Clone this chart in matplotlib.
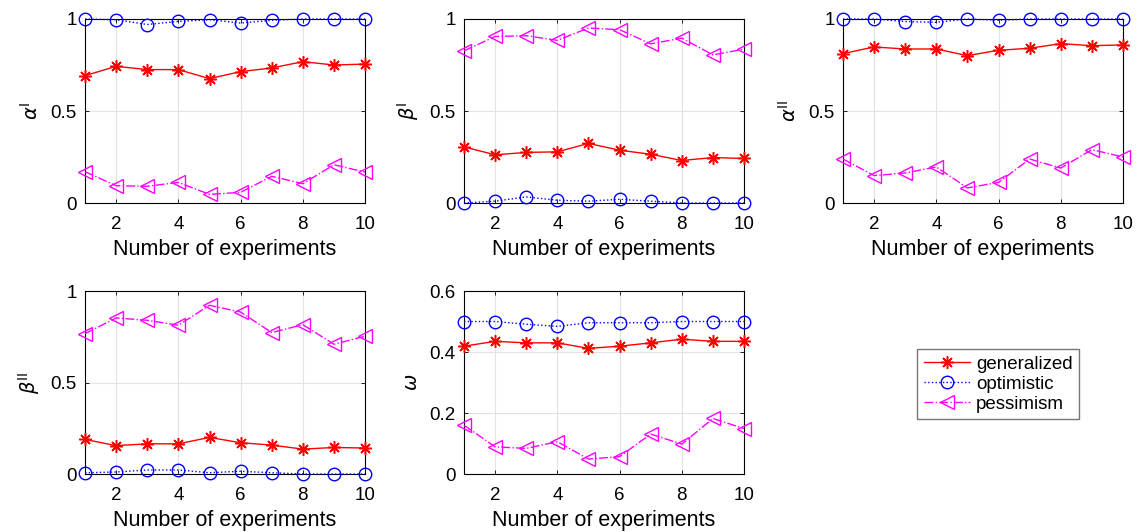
import numpy as np
import matplotlib
matplotlib.use("Agg")
from matplotlib import pyplot as plt

plt.rcParams['font.family'] = ['Liberation Sans', 'DejaVu Sans']
plt.rcParams['mathtext.fontset'] = 'dejavusans'

experiments = np.arange(1, 11)

# alpha^I
alpha1_gen = [0.692, 0.743, 0.725, 0.725, 0.676, 0.714, 0.734, 0.768, 0.750, 0.755]
alpha1_opt = [1.0, 0.996, 0.970, 0.987, 0.996, 0.978, 0.993, 1.0, 1.0, 1.0]
alpha1_pes = [0.170, 0.094, 0.091, 0.112, 0.047, 0.058, 0.145, 0.105, 0.208, 0.168]

# beta^I
beta1_gen = [0.305, 0.262, 0.275, 0.278, 0.324, 0.287, 0.265, 0.231, 0.247, 0.242]
beta1_opt = [0.0, 0.010, 0.033, 0.015, 0.010, 0.020, 0.010, 0.0, 0.0, 0.0]
beta1_pes = [0.827, 0.905, 0.909, 0.884, 0.951, 0.942, 0.865, 0.896, 0.805, 0.836]

# alpha^II
alpha2_gen = [0.812, 0.848, 0.837, 0.837, 0.801, 0.830, 0.841, 0.866, 0.855, 0.859]
alpha2_opt = [1.0, 1.0, 0.986, 0.982, 1.0, 0.993, 1.0, 1.0, 1.0, 1.0]
alpha2_pes = [0.239, 0.149, 0.163, 0.196, 0.082, 0.112, 0.239, 0.190, 0.290, 0.250]

# beta^II
beta2_gen = [0.189, 0.155, 0.165, 0.165, 0.200, 0.171, 0.158, 0.136, 0.145, 0.142]
beta2_opt = [0.007, 0.011, 0.022, 0.022, 0.007, 0.015, 0.007, 0.0, 0.0, 0.0]
beta2_pes = [0.767, 0.853, 0.840, 0.813, 0.922, 0.885, 0.773, 0.816, 0.709, 0.753]

# omega
omega_gen = [0.419, 0.435, 0.430, 0.430, 0.412, 0.419, 0.430, 0.442, 0.435, 0.435]
omega_opt = [0.500, 0.500, 0.491, 0.484, 0.496, 0.496, 0.496, 0.500, 0.500, 0.500]
omega_pes = [0.160, 0.089, 0.084, 0.106, 0.049, 0.057, 0.131, 0.098, 0.182, 0.149]

labels = ['generalized', 'optimistic', 'pessimism']
panels = [
    (r'$\alpha^{\rm I}$', alpha1_gen, alpha1_opt, alpha1_pes, [0, 0.5, 1], ['0', '0.5', '1'], 1),
    (r'$\beta^{\rm I}$', beta1_gen, beta1_opt, beta1_pes, [0, 0.5, 1], ['0', '0.5', '1'], 1),
    (r'$\alpha^{\rm II}$', alpha2_gen, alpha2_opt, alpha2_pes, [0, 0.5, 1], ['0', '0.5', '1'], 1),
    (r'$\beta^{\rm II}$', beta2_gen, beta2_opt, beta2_pes, [0, 0.5, 1], ['0', '0.5', '1'], 1),
    (r'$\omega$', omega_gen, omega_opt, omega_pes, [0, 0.2, 0.4, 0.6], ['0', '0.2', '0.4', '0.6'], 0.6),
]

positions = [
    [0.0748, 0.6184, 0.2463, 0.3459],
    [0.4081, 0.6184, 0.2463, 0.3459],
    [0.7414, 0.6184, 0.2463, 0.3459],
    [0.0748, 0.1090, 0.2463, 0.3440],
    [0.4081, 0.1090, 0.2463, 0.3440],
]

star = (8, 2, 0)

fig = plt.figure(figsize=(11.37, 5.32), dpi=100)

handles = None
for pos, (ylab, gen, opt, pes, yt, ytl, ymax) in zip(positions, panels):
    ax = fig.add_axes(pos)
    h1, = ax.plot(experiments, gen, color='red', linestyle='-', linewidth=1,
                  marker=star, markersize=9, markeredgewidth=1.1, clip_on=False, zorder=4)
    h2, = ax.plot(experiments, opt, color='blue', linestyle=':', linewidth=1,
                  marker='o', markersize=9, markerfacecolor='none', markeredgewidth=1,
                  clip_on=False, zorder=4)
    h3, = ax.plot(experiments, pes, color='magenta', linestyle='-.', linewidth=1,
                  marker='<', markersize=10, markerfacecolor='none', markeredgewidth=1,
                  clip_on=False, zorder=4)
    handles = [h1, h2, h3]
    ax.set_xlim(1, 10)
    ax.set_ylim(0, ymax)
    ax.set_xticks([2, 4, 6, 8, 10])
    ax.set_yticks(yt)
    ax.set_yticklabels(ytl)
    ax.grid(True, color='#e3e3e3', linewidth=0.8)
    ax.set_axisbelow(True)
    ax.tick_params(direction='in', length=3, labelsize=13.5, top=True, right=True, width=0.6)
    ax.tick_params(axis='x', pad=9)
    ax.tick_params(axis='y', pad=6)
    for s in ax.spines.values():
        s.set_linewidth(0.8)
    ax.set_xlabel('Number of experiments', fontsize=15.5, labelpad=5)
    ax.set_ylabel(ylab, fontsize=14, labelpad=6)

fig.legend(handles, labels, loc='upper left', bbox_to_anchor=(0.8065, 0.344),
           fontsize=13.5, frameon=True, fancybox=False, edgecolor='#555555',
           borderpad=0.35, labelspacing=0.15, handlelength=2.5, handletextpad=0.3,
           borderaxespad=0)

fig.savefig('out.png', dpi=100)
